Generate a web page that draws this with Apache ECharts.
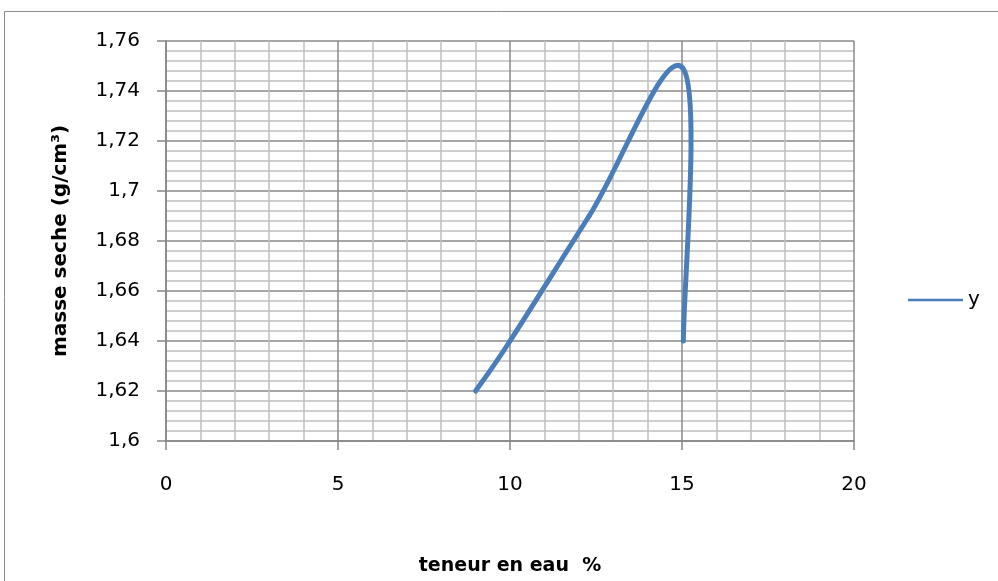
<!DOCTYPE html>
<html><head><meta charset="utf-8">
<script src="https://cdn.jsdelivr.net/npm/echarts@6/dist/echarts.min.js"></script>
<style>html,body{margin:0;padding:0;background:#fff}#c{width:998px;height:581px}</style>
</head><body><div id="c"></div>
<script>
const seriesName = 'y';
const waterContent = [9, 10, 12.3, 15.03, 15.04];
const dryDensity = [1.62, 1.64, 1.69, 1.749, 1.64];
const xTicks = [0, 5, 10, 15, 20];
const yTicks = [1.6, 1.62, 1.64, 1.66, 1.68, 1.7, 1.72, 1.74, 1.76];
const xTitle = 'teneur en eau  %';
const yTitle = 'masse seche (g/cm³)';

const font = 'DejaVu Sans, Liberation Sans, sans-serif';
const lineColor = '#4a7ebb';
const chart = echarts.init(document.getElementById('c'), null, {renderer: 'canvas'});
const fmtY = v => String(+v.toFixed(2)).replace('.', ',');

// Excel-like smoothed line (Catmull-Rom style bezier), points mapped through the chart's scales
function renderSmooth(params, api) {
  if (params.dataIndex !== 0) return null;
  const p = waterContent.map((x, i) => api.coord([x, dryDensity[i]]));
  const n = p.length, f = 0.19, children = [];
  for (let i = 0; i < n - 1; i++) {
    const a = p[Math.max(i - 1, 0)], b = p[i], c = p[i + 1], d = p[Math.min(i + 2, n - 1)];
    children.push({
      type: 'bezierCurve',
      shape: {
        x1: b[0], y1: b[1], x2: c[0], y2: c[1],
        cpx1: b[0] + (c[0] - a[0]) * f, cpy1: b[1] + (c[1] - a[1]) * f,
        cpx2: c[0] - (d[0] - b[0]) * f, cpy2: c[1] - (d[1] - b[1]) * f
      },
      style: {stroke: lineColor, lineWidth: 5, fill: null, lineCap: 'round', lineJoin: 'round'}
    });
  }
  return {type: 'group', children};
}

chart.setOption({
  animation: false,
  graphic: [{type: 'rect', shape: {x: 4.5, y: 11.5, width: 1100, height: 700}, style: {fill: 'none', stroke: '#8c8c8c', lineWidth: 1}, z: -1}],
  grid: {left: 166, right: 144, top: 41, bottom: 139, containLabel: false},
  legend: {
    data: [seriesName], left: 908, top: 290, padding: 0, itemWidth: 55, itemHeight: 10, itemGap: 4,
    icon: 'path://M0,3.8 L55,3.8 L55,6.2 L0,6.2 Z',
    textStyle: {fontFamily: font, fontSize: 20, color: '#000'}
  },
  xAxis: {
    type: 'value', min: xTicks[0], max: xTicks[xTicks.length - 1], interval: 5,
    name: xTitle, nameLocation: 'middle', nameGap: 116,
    nameTextStyle: {fontFamily: font, fontSize: 19, fontWeight: 'bold', color: '#000'},
    axisLine: {show: true, lineStyle: {color: '#868686', width: 1.5}},
    axisTick: {show: true, inside: false, length: 9, lineStyle: {color: '#868686', width: 1.5}},
    axisLabel: {fontFamily: font, fontSize: 20, color: '#000', margin: 34},
    splitLine: {show: true, lineStyle: {color: '#8a8a8a', width: 1.5}},
    minorTick: {show: false, splitNumber: 5},
    minorSplitLine: {show: true, lineStyle: {color: '#c0c0c0', width: 1.5}}
  },
  yAxis: {
    type: 'value', min: yTicks[0], max: yTicks[yTicks.length - 1], interval: 0.02,
    name: yTitle, nameLocation: 'middle', nameGap: 95, nameRotate: 90,
    nameTextStyle: {fontFamily: font, fontSize: 20, fontWeight: 'bold', color: '#000'},
    axisLine: {show: true, lineStyle: {color: '#868686', width: 1.5}},
    axisTick: {show: true, inside: false, length: 9, lineStyle: {color: '#868686', width: 1.5}},
    axisLabel: {fontFamily: font, fontSize: 20, color: '#000', margin: 26, formatter: fmtY},
    splitLine: {show: true, lineStyle: {color: '#8a8a8a', width: 1.5}},
    minorTick: {show: false, splitNumber: 5},
    minorSplitLine: {show: true, lineStyle: {color: '#c0c0c0', width: 1.5}}
  },
  series: [{
    name: seriesName, type: 'custom', renderItem: renderSmooth,
    data: waterContent.map((x, i) => [x, dryDensity[i]]),
    encode: {x: 0, y: 1},
    itemStyle: {color: lineColor}
  }]
});
</script></body></html>
